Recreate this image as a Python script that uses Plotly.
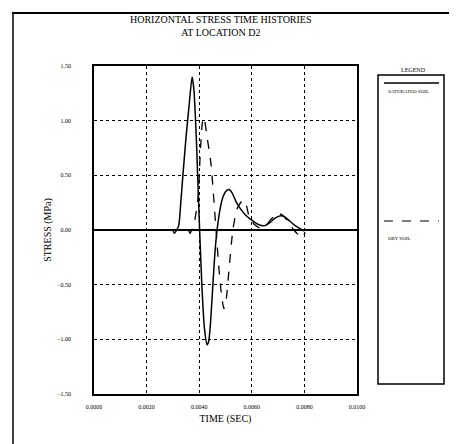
import plotly.graph_objects as go

# Saturated soil (solid)
sat_t = [0.0030, 0.00305, 0.00312, 0.00322, 0.00330, 0.00338, 0.00350, 0.00362, 0.00373, 0.00380,
         0.00390, 0.00400, 0.00410, 0.00420, 0.00430, 0.00436, 0.00443, 0.00452, 0.00460, 0.00468,
         0.00480, 0.00490, 0.00500, 0.00513, 0.00525, 0.00540, 0.00555, 0.00575, 0.00600, 0.00625,
         0.00650, 0.00670, 0.00690, 0.00710, 0.00725, 0.00745, 0.00765, 0.00785, 0.00800]
sat_s = [0.00, -0.03, -0.01, 0.04, 0.25, 0.50, 0.85, 1.15, 1.40, 1.28,
         0.78, 0.10, -0.50, -0.90, -1.05, -1.02, -0.85, -0.50, -0.20, 0.00,
         0.20, 0.30, 0.35, 0.37, 0.34, 0.26, 0.20, 0.14, 0.09, 0.05,
         0.04, 0.07, 0.11, 0.13, 0.12, 0.08, 0.04, 0.01, -0.01]

# Dry soil (dashed)
dry_t = [0.00360, 0.00365, 0.00372, 0.00380, 0.00395, 0.00405, 0.00412, 0.00418, 0.00430, 0.00445,
         0.00464, 0.00475, 0.00485, 0.00494, 0.00502, 0.00513, 0.00528, 0.00545, 0.00567, 0.00580,
         0.00590, 0.00610, 0.00630, 0.00650, 0.00670, 0.00690, 0.00700, 0.00720, 0.00740, 0.00760,
         0.00780, 0.00795, 0.00802]
dry_s = [0.00, -0.03, 0.00, 0.05, 0.28, 0.75, 0.98, 1.03, 0.85, 0.60,
         0.00, -0.35, -0.60, -0.72, -0.65, -0.37, 0.00, 0.20, 0.275, 0.22,
         0.12, 0.05, 0.02, 0.03, 0.09, 0.14, 0.155, 0.13, 0.07, 0.00,
         -0.05, -0.065, -0.02]

x_ticks = [0.0, 0.002, 0.004, 0.006, 0.008, 0.010]
y_ticks = [-1.5, -1.0, -0.5, 0.0, 0.5, 1.0, 1.5]

FONT = "Liberation Serif"
OFF = 7  # page offset of the figure inside the window

fig = go.Figure()
fig.add_trace(go.Scatter(x=sat_t, y=sat_s, mode="lines", line=dict(color="black", width=1.5, shape="spline", smoothing=0.6),
                         name="SATURATED SOIL", showlegend=False))
fig.add_trace(go.Scatter(x=dry_t, y=dry_s, mode="lines", line=dict(color="black", width=1.3, dash="dash", shape="spline", smoothing=0.6),
                         name="DRY SOIL", showlegend=False))

W, H = 457 - OFF - 1, 444 - OFF - 1
L, R, T, B = 93 - OFF, 356 - OFF, 65 - OFF, 393 - OFF
pw, ph = R - L, B - T

def px(x):
    return (x - OFF - L) / pw

def py(y):
    return (B - (y - OFF)) / ph

shapes = []
# outer border: left edge
shapes.append(dict(type="line", xref="paper", yref="paper", x0=px(12), x1=px(12), y0=py(12), y1=py(450),
                   line=dict(color="black", width=1.5)))
# outer border: top edge as a thin filled bar
shapes.append(dict(type="rect", xref="paper", yref="paper", x0=px(11), x1=px(456), y0=py(13), y1=py(11),
                   fillcolor="black", line=dict(width=0), layer="above"))
# legend box
shapes.append(dict(type="rect", xref="paper", yref="paper", x0=px(377), x1=px(443), y0=py(383), y1=py(74),
                   line=dict(color="black", width=1.5)))
shapes.append(dict(type="line", xref="paper", yref="paper", x0=px(383), x1=px(438), y0=py(82), y1=py(82),
                   line=dict(color="black", width=1.5)))
shapes.append(dict(type="line", xref="paper", yref="paper", x0=px(383), x1=px(438), y0=py(220), y1=py(220),
                   line=dict(color="black", width=1.2, dash="dash")))

annotations = [
    dict(text="LEGEND", xref="paper", yref="paper", x=px(412), y=py(69), showarrow=False,
         font=dict(family=FONT, size=6, color="black"), xanchor="center", yanchor="middle"),
    dict(text="SATURATED SOIL", xref="paper", yref="paper", x=px(385), y=py(91), showarrow=False,
         font=dict(family=FONT, size=5, color="black"), xanchor="left", yanchor="middle"),
    dict(text="DRY SOIL", xref="paper", yref="paper", x=px(385), y=py(237), showarrow=False,
         font=dict(family=FONT, size=5, color="black"), xanchor="left", yanchor="middle"),
    dict(text="HORIZONTAL STRESS TIME HISTORIES<br>AT LOCATION D2", xref="paper", yref="paper",
         x=px(220), y=py(25), showarrow=False, align="center",
         font=dict(family=FONT, size=10, color="black"), xanchor="center", yanchor="middle"),
]

fig.update_layout(
    width=W, height=H,
    margin=dict(l=L, r=W - R, t=T, b=H - B, pad=0),
    paper_bgcolor="white", plot_bgcolor="white",
    font=dict(family=FONT, color="black"),
    shapes=shapes, annotations=annotations,
    showlegend=False,
)
fig.update_xaxes(range=[0, 0.010], tickvals=x_ticks, tickformat=".4f",
                 showgrid=True, gridcolor="black", griddash="dot", gridwidth=1,
                 zeroline=False, showline=True, linecolor="black", linewidth=1.5, mirror=True,
                 ticks="", tickfont=dict(family=FONT, size=6), ticklabelstandoff=6,
                 title=dict(text="TIME (SEC)", font=dict(family=FONT, size=10), standoff=6))
fig.update_yaxes(range=[-1.5, 1.5], tickvals=y_ticks, tickformat=".2f",
                 showgrid=True, gridcolor="black", griddash="dot", gridwidth=1,
                 zeroline=True, zerolinecolor="black", zerolinewidth=1.5,
                 showline=True, linecolor="black", linewidth=1.5, mirror=True,
                 ticks="", tickfont=dict(family=FONT, size=6), ticklabelstandoff=20,
                 title=dict(text="STRESS (MPa)", font=dict(family=FONT, size=10), standoff=4))

fig.write_html("out.html", config={"displayModeBar": False})
